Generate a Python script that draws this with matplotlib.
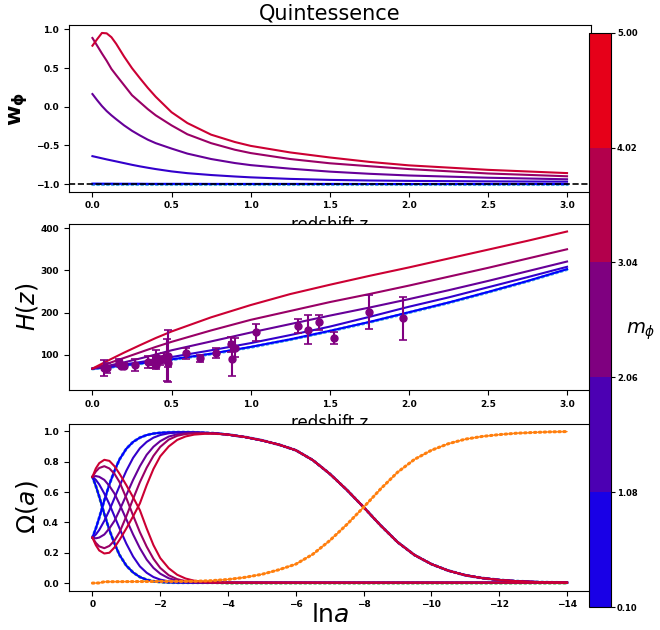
import numpy as np
import matplotlib
matplotlib.use("Agg")
import matplotlib.pyplot as plt
from matplotlib.colors import LinearSegmentedColormap, Normalize
from matplotlib.cm import ScalarMappable
from matplotlib.ticker import MultipleLocator

# ---------------- data ----------------
m_values = [0.1, 1.08, 2.06, 3.04, 4.02]
m_bounds = [0.10, 1.08, 2.06, 3.04, 4.02, 5.00]

# equation of state w_phi(z)
z_w = [0, 0.03, 0.06, 0.09, 0.12, 0.15, 0.2, 0.25, 0.3, 0.35, 0.4, 0.5, 0.6,
       0.75, 0.9, 1.0, 1.25, 1.5, 1.75, 2.0, 2.5, 3.0]
w_m1 = [-0.993, -0.993, -0.994, -0.994, -0.994, -0.995, -0.995, -0.995, -0.995,
        -0.996, -0.996, -0.996, -0.996, -0.997, -0.997, -0.997, -0.997, -0.997,
        -0.998, -0.998, -0.998, -0.998]
w_m2 = [-0.638, -0.652, -0.666, -0.68, -0.693, -0.706, -0.728, -0.75, -0.77,
        -0.788, -0.805, -0.835, -0.858, -0.882, -0.901, -0.912, -0.932, -0.945,
        -0.953, -0.958, -0.964, -0.968]
w_m3 = [0.165, 0.085, 0.01, -0.055, -0.11, -0.16, -0.24, -0.31, -0.37, -0.425,
        -0.47, -0.54, -0.605, -0.675, -0.727, -0.754, -0.80, -0.838, -0.866,
        -0.888, -0.917, -0.937]
w_m4 = [0.89, 0.79, 0.69, 0.595, 0.49, 0.41, 0.28, 0.15, 0.06, -0.03, -0.11,
        -0.24, -0.355, -0.47, -0.555, -0.598, -0.675, -0.73, -0.768, -0.805,
        -0.862, -0.898]
w_m5 = [0.79, 0.875, 0.955, 0.95, 0.90, 0.815, 0.65, 0.50, 0.37, 0.245, 0.13,
        -0.07, -0.21, -0.36, -0.455, -0.505, -0.59, -0.655, -0.712, -0.757,
        -0.815, -0.857]
w_lcdm = [-1.0] * len(z_w)

# Hubble rate H(z)
z_H = [0, 0.1, 0.2, 0.3, 0.4, 0.5, 0.75, 1.0, 1.25, 1.5, 1.75, 2.0, 2.25, 2.5,
       2.75, 3.0]
H_m1 = [67.7, 71.2, 75.3, 80, 85, 89.5, 103, 119, 137, 157, 178, 201, 224, 249,
        275, 303]
H_m2 = [67.7, 72, 77.5, 83, 89, 95, 111, 128, 147, 167, 190, 214, 236, 260,
        284, 308.5]
H_m3 = [67.7, 74.5, 82.5, 91.5, 101, 111, 132, 153, 173, 193, 212, 232, 253,
        275, 298, 321]
H_m4 = [67.7, 80, 93, 106, 119, 131, 158, 183, 204, 225, 244, 264, 285, 306,
        328, 350]
H_m5 = [67.7, 87, 105.5, 123, 140, 155.5, 189, 218, 244, 266, 287, 307, 328,
        349, 370, 392]
H_lcdm = [67.0, 70.4, 74.4, 79, 84, 88.6, 102, 118, 136, 156, 177, 200, 223,
          248, 274, 302]

# cosmic chronometer measurements
z_obs = [0.07, 0.09, 0.17, 0.179, 0.199, 0.27, 0.352, 0.3802, 0.4, 0.4004,
         0.4247, 0.4497, 0.47, 0.4783, 0.48, 0.593, 0.68, 0.781, 0.875, 0.88,
         0.9, 1.037, 1.3, 1.363, 1.43, 1.53, 1.75, 1.965]
H_obs = [69, 69, 83, 75, 75, 77, 83, 83, 95, 77, 87.1, 92.8, 89, 80.9, 97, 104,
         92, 105, 125, 90, 117, 154, 168, 160, 177, 140, 202, 186.5]
H_err = [19.6, 12, 8, 4, 5, 14, 14, 13.5, 17, 10.2, 11.2, 12.9, 49.6, 9, 62, 13,
         8, 12, 17, 40, 23, 20, 17, 33.6, 18, 14, 40, 50.4]

# density parameters vs ln a (late-time part, model dependent)
lna_early = [0, -0.1, -0.2, -0.35, -0.5, -0.65, -0.8, -1.0, -1.2, -1.4, -1.6,
             -1.8, -2.0, -2.25, -2.5, -2.75, -3.0, -3.3, -3.6]
de_m1 = [0.70, 0.64, 0.57, 0.455, 0.35, 0.26, 0.185, 0.115, 0.07, 0.04, 0.022,
         0.012, 0.007, 0.004, 0.003, 0.003, 0.003, 0.003, 0.003]
de_m2 = [0.70, 0.68, 0.65, 0.59, 0.52, 0.44, 0.36, 0.26, 0.175, 0.11, 0.068,
         0.04, 0.023, 0.011, 0.006, 0.004, 0.003, 0.003, 0.003]
de_m3 = [0.70, 0.705, 0.70, 0.68, 0.64, 0.59, 0.52, 0.42, 0.32, 0.23, 0.155,
         0.10, 0.062, 0.032, 0.016, 0.008, 0.005, 0.004, 0.003]
de_m4 = [0.70, 0.735, 0.758, 0.77, 0.755, 0.72, 0.665, 0.56, 0.445, 0.335,
         0.24, 0.16, 0.10, 0.052, 0.026, 0.013, 0.007, 0.004, 0.003]
de_m5 = [0.70, 0.755, 0.79, 0.812, 0.805, 0.77, 0.72, 0.645, 0.565, 0.48, 0.36,
         0.25, 0.165, 0.098, 0.055, 0.03, 0.016, 0.008, 0.004]
mat_m1 = [0.30, 0.36, 0.43, 0.545, 0.65, 0.74, 0.815, 0.885, 0.93, 0.958,
          0.975, 0.985, 0.99, 0.993, 0.994, 0.994, 0.993, 0.99, 0.987]
mat_m2 = [0.30, 0.32, 0.35, 0.41, 0.48, 0.56, 0.64, 0.74, 0.825, 0.888, 0.93,
          0.958, 0.975, 0.987, 0.992, 0.993, 0.993, 0.99, 0.987]
mat_m3 = [0.30, 0.295, 0.30, 0.32, 0.36, 0.41, 0.48, 0.58, 0.68, 0.77, 0.845,
          0.898, 0.935, 0.965, 0.98, 0.987, 0.99, 0.989, 0.987]
mat_m4 = [0.30, 0.265, 0.242, 0.23, 0.245, 0.28, 0.335, 0.44, 0.555, 0.665,
          0.76, 0.838, 0.897, 0.945, 0.97, 0.982, 0.987, 0.988, 0.986]
mat_m5 = [0.30, 0.25, 0.215, 0.195, 0.20, 0.235, 0.285, 0.36, 0.44, 0.525,
          0.645, 0.752, 0.835, 0.90, 0.943, 0.966, 0.978, 0.983, 0.984]

# early-time part, common to all models
lna_tail = [-3.6, -4.0, -4.5, -5.0, -5.5, -6.0, -6.5, -7.0, -7.5, -8.0, -8.5,
            -9.0, -9.5, -10.0, -10.5, -11.0, -11.5, -12.0, -12.5, -13.0,
            -13.5, -14.0]
mat_tail = [0.987, 0.978, 0.962, 0.94, 0.912, 0.875, 0.81, 0.72, 0.615, 0.50,
            0.38, 0.27, 0.185, 0.125, 0.082, 0.052, 0.033, 0.021, 0.013, 0.008,
            0.005, 0.003]
de_tail = [0.003, 0.003, 0.003, 0.003, 0.003, 0.003, 0.003, 0.003, 0.003,
           0.003, 0.003, 0.003, 0.003, 0.003, 0.003, 0.003, 0.003, 0.003,
           0.003, 0.003, 0.003, 0.003]
de_lcdm_tail = [0.0] * len(lna_tail)

# radiation
lna_rad = [0, -0.2, -0.35, -1.0, -2.0, -3.0, -3.5, -4.0, -4.5, -5.0, -5.5, -6.0,
           -6.5, -7.0, -7.5, -8.0, -8.5, -9.0, -9.5, -10.0, -10.5, -11.0,
           -11.5, -12.0, -12.5, -13.0, -13.5, -14.0]
rad = [0.0, 0.001, 0.009, 0.01, 0.011, 0.012, 0.016, 0.024, 0.038, 0.058,
       0.088, 0.125, 0.19, 0.28, 0.385, 0.50, 0.62, 0.73, 0.815, 0.875, 0.918,
       0.948, 0.966, 0.978, 0.987, 0.992, 0.996, 0.998]

# ---------------- figure ----------------
cmap = LinearSegmentedColormap.from_list("blue_red", ["blue", "red"])
norm = Normalize(vmin=m_bounds[0], vmax=m_bounds[-1])
colors = [cmap(norm(m)) for m in m_values]

fig = plt.figure(figsize=(6.6, 6.3), dpi=100)
W = 0.791
ax1 = fig.add_axes([0.1041, 0.6957, W, 0.264])
ax2 = fig.add_axes([0.1041, 0.381, W, 0.2635])
ax3 = fig.add_axes([0.1041, 0.0624, W, 0.2646])
cax = fig.add_axes([0.893, 0.0365, 0.0324, 0.9115])

lw = 1.5
dots = dict(linestyle=(0, (0.5, 1.1)), dash_capstyle="round", linewidth=2.2)

# --- w_phi(z)
ax1.plot(z_w, w_lcdm, color="#4aa8e0", **dots)
for w, c in zip([w_m1, w_m2, w_m3, w_m4, w_m5], colors):
    ax1.plot(z_w, w, color=c, lw=lw)
ax1.axhline(-1, color="k", ls="--", lw=1.2)
ax1.set_title("Quintessence", fontsize=15, pad=4)
ax1.set_xlabel("redshift z", fontsize=12)
ax1.set_ylabel(r"$\mathbf{w_\phi}$", fontsize=16)
ax1.yaxis.set_major_locator(MultipleLocator(0.5))
ax1.xaxis.set_major_locator(MultipleLocator(0.5))
ax1.yaxis.set_label_coords(-0.075, 0.5)

# --- H(z)
ax2.plot(z_H, H_lcdm, color="#4aa8e0", **dots)
for H, c in zip([H_m1, H_m2, H_m3, H_m4, H_m5], colors):
    ax2.plot(z_H, H, color=c, lw=lw)
ax2.errorbar(z_obs, H_obs, yerr=H_err, fmt="o", color="purple", ms=5,
             capsize=3, elinewidth=1.5, capthick=1.2)
ax2.set_xlabel("redshift z", fontsize=12)
ax2.set_ylabel(r"$H(z)$", fontsize=17)
ax2.yaxis.set_major_locator(MultipleLocator(100))
ax2.xaxis.set_major_locator(MultipleLocator(0.5))
ax2.yaxis.set_label_coords(-0.055, 0.5)

# --- Omega(a)
lna_full = np.concatenate([lna_early, lna_tail[1:]])
ax3.plot(lna_full, np.concatenate([mat_m1, mat_tail[1:]]), color="#4a90d0",
         **dots)
ax3.plot(lna_full, np.concatenate([de_m1, de_lcdm_tail[1:]]), color="C2",
         alpha=0.8, **dots)
for de, mat, c in zip([de_m1, de_m2, de_m3, de_m4, de_m5],
                      [mat_m1, mat_m2, mat_m3, mat_m4, mat_m5], colors):
    ax3.plot(lna_full, np.concatenate([de, de_tail[1:]]), color=c, lw=lw)
    ax3.plot(lna_full, np.concatenate([mat, mat_tail[1:]]), color=c, lw=lw)
ax3.plot(lna_rad, rad, color="C1", lw=0.8)
ax3.plot(lna_rad, rad, color="C1", **dots)
ax3.invert_xaxis()
ax3.set_xticks([0, -2, -4, -6, -8, -10, -12, -14])
ax3.yaxis.set_major_locator(MultipleLocator(0.2))
ax3.set_xlabel(r"$\mathrm{ln}a$", fontsize=18)
ax3.xaxis.set_label_coords(0.5, -0.075)
ax3.xaxis.label.set_verticalalignment("top")
ax3.set_ylabel(r"$\Omega(a)$", fontsize=18)
ax3.yaxis.set_label_coords(-0.055, 0.5)

for ax in (ax1, ax2, ax3):
    ax.tick_params(labelsize=6.5)
    for lab in ax.get_xticklabels() + ax.get_yticklabels():
        lab.set_fontweight("bold")

# --- colour bar
sm = ScalarMappable(norm=norm, cmap=cmap)
cb = fig.colorbar(sm, cax=cax, boundaries=m_bounds, ticks=m_bounds,
                  format="%.2f")
cb.ax.tick_params(labelsize=6, length=3, pad=1.5)
for lab in cb.ax.get_yticklabels():
    lab.set_fontweight("bold")
cb.set_label(r"$m_\phi$", rotation=0, fontsize=14)
cb.ax.yaxis.set_label_coords(1.72, 0.48)
cb.ax.yaxis.label.set_horizontalalignment("left")
cb.ax.yaxis.label.set_verticalalignment("center")

fig.savefig("out.png", dpi=100)
